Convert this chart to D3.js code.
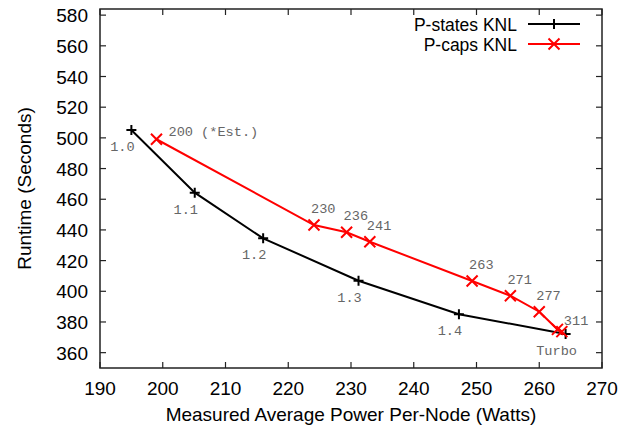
<!DOCTYPE html>
<html>
<head>
<meta charset="utf-8">
<script src="https://cdn.jsdelivr.net/npm/d3@7"></script>
<style>
  body { margin: 0; background: #fff; }
  svg text { font-family: "Liberation Sans", Arial, sans-serif; }
  .ptlabel { font-family: "Liberation Mono", "DejaVu Sans Mono", monospace !important; fill: #666; }
</style>
</head>
<body>
<div id="chart"></div>
<script>
// ---- data ----
const xTicks = [190, 200, 210, 220, 230, 240, 250, 260, 270];
const yTicks = [360, 380, 400, 420, 440, 460, 480, 500, 520, 540, 560, 580];

// P-states KNL (frequency settings)
const pstatesPower   = [195.0, 205.1, 216.0, 231.2, 247.2, 264.2];
const pstatesRuntime = [505.1, 464.3, 434.5, 406.9, 385.0, 372.2];
const pstatesLabels  = ["1.0", "1.1", "1.2", "1.3", "1.4", "Turbo"];

// P-caps KNL (power caps)
const pcapsPower   = [199.0, 224.1, 229.3, 233.0, 249.3, 255.4, 260.0, 262.9, 263.6];
const pcapsRuntime = [499.1, 443.2, 438.5, 432.3, 406.7, 397.1, 386.7, 375.2, 373.7];
const pcapsLabels  = ["200 (*Est.)", "230", "236", "241", "263", "271", "277", "", "311"];

const seriesNames = ["P-states KNL", "P-caps KNL"];

// ---- layout ----
const W = 631, H = 431;
const plot = {left: 100, right: 602, top: 9, bottom: 368};

const svg = d3.select("#chart").append("svg")
    .attr("width", W)
    .attr("height", H);

svg.append("rect").attr("width", W).attr("height", H).attr("fill", "#fff");

let x = d3.scaleLinear().domain([190, 270]).range([plot.left, plot.right]);
let y = d3.scaleLinear().domain([350, 584]).range([plot.bottom, plot.top]);

const tickLen = 6;
const axisColor = "#222";

// ticks (inward, mirrored)
let gTicks = svg.append("g").attr("stroke", axisColor).attr("stroke-width", 1.2);
xTicks.forEach(function (t) {
    gTicks.append("line").attr("x1", x(t)).attr("x2", x(t)).attr("y1", plot.bottom).attr("y2", plot.bottom - tickLen);
    gTicks.append("line").attr("x1", x(t)).attr("x2", x(t)).attr("y1", plot.top).attr("y2", plot.top + tickLen);
});
yTicks.forEach(function (t) {
    gTicks.append("line").attr("x1", plot.left).attr("x2", plot.left + tickLen).attr("y1", y(t)).attr("y2", y(t));
    gTicks.append("line").attr("x1", plot.right).attr("x2", plot.right - tickLen).attr("y1", y(t)).attr("y2", y(t));
});

// tick labels
svg.selectAll(".xtick").data(xTicks).enter().append("text")
    .attr("class", "xtick")
    .attr("x", d => x(d))
    .attr("y", plot.bottom + 27)
    .attr("text-anchor", "middle")
    .attr("font-size", 19)
    .attr("fill", "#000")
    .text(d => d);

svg.selectAll(".ytick").data(yTicks).enter().append("text")
    .attr("class", "ytick")
    .attr("x", plot.left - 12)
    .attr("y", d => y(d) + 7)
    .attr("text-anchor", "end")
    .attr("font-size", 19)
    .attr("fill", "#000")
    .text(d => d);

// frame
svg.append("rect")
    .attr("x", plot.left).attr("y", plot.top)
    .attr("width", plot.right - plot.left).attr("height", plot.bottom - plot.top)
    .attr("fill", "none").attr("stroke", axisColor).attr("stroke-width", 1.5);

// axis titles
svg.append("text")
    .attr("x", (plot.left + plot.right) / 2)
    .attr("y", 421)
    .attr("text-anchor", "middle")
    .attr("font-size", 19)
    .text("Measured Average Power Per-Node (Watts)");

svg.append("text")
    .attr("transform", `translate(31, ${(plot.top + plot.bottom) / 2}) rotate(-90)`)
    .attr("text-anchor", "middle")
    .attr("font-size", 19)
    .text("Runtime (Seconds)");

// ---- series ----
let pstates = pstatesPower.map((p, i) => ({x: p, y: pstatesRuntime[i], label: pstatesLabels[i]}));
let pcaps = pcapsPower.map((p, i) => ({x: p, y: pcapsRuntime[i], label: pcapsLabels[i]}));

let line = d3.line().x(d => x(d.x)).y(d => y(d.y));

svg.append("path").datum(pstates)
    .attr("d", line).attr("fill", "none")
    .attr("stroke", "#000").attr("stroke-width", 2);

svg.append("path").datum(pcaps)
    .attr("d", line).attr("fill", "none")
    .attr("stroke", "#f00").attr("stroke-width", 2);

function plus(g, cx, cy, s, color) {
    g.append("path")
        .attr("d", `M${cx - s},${cy}H${cx + s}M${cx},${cy - s}V${cy + s}`)
        .attr("stroke", color).attr("stroke-width", 2).attr("fill", "none");
}
function cross(g, cx, cy, s, color) {
    g.append("path")
        .attr("d", `M${cx - s},${cy - s}L${cx + s},${cy + s}M${cx - s},${cy + s}L${cx + s},${cy - s}`)
        .attr("stroke", color).attr("stroke-width", 2).attr("fill", "none");
}

let gPts = svg.append("g");
pstates.forEach(d => plus(gPts, x(d.x), y(d.y), 5, "#000"));
pcaps.forEach(d => cross(gPts, x(d.x), y(d.y), 5.5, "#f00"));

// point labels
svg.selectAll(".pslab").data(pstates).enter().append("text")
    .attr("class", "ptlabel")
    .attr("x", d => x(d.x) - 9)
    .attr("y", d => y(d.y) + 21)
    .attr("text-anchor", "middle")
    .attr("font-size", 13.6)
    .text(d => d.label);

svg.selectAll(".pclab").data(pcaps).enter().append("text")
    .attr("class", "ptlabel")
    .attr("x", function (d, i) {
        if (i === 0) return x(d.x) + 12;
        if (i === pcaps.length - 1) return x(d.x) + 2;
        return x(d.x) - 3;
    })
    .attr("y", function (d, i) {
        if (i === 0) return y(d.y) - 3;
        if (i === pcaps.length - 1) return y(d.y) - 7;
        return y(d.y) - 12;
    })
    .attr("text-anchor", "start")
    .attr("font-size", 13.6)
    .text(d => d.label);

// ---- legend ----
let legend = svg.append("g");
seriesNames.forEach(function (name, i) {
    let ly = 24 + i * 20;
    legend.append("text")
        .attr("x", 517).attr("y", ly + 6.5)
        .attr("text-anchor", "end")
        .attr("font-size", 17.5)
        .text(name);
    let color = i === 0 ? "#000" : "#f00";
    legend.append("line")
        .attr("x1", 528).attr("x2", 580).attr("y1", ly).attr("y2", ly)
        .attr("stroke", color).attr("stroke-width", 2);
    if (i === 0) plus(legend, 554, ly, 5, color);
    else cross(legend, 554, ly, 5.5, color);
});
</script>
</body>
</html>
